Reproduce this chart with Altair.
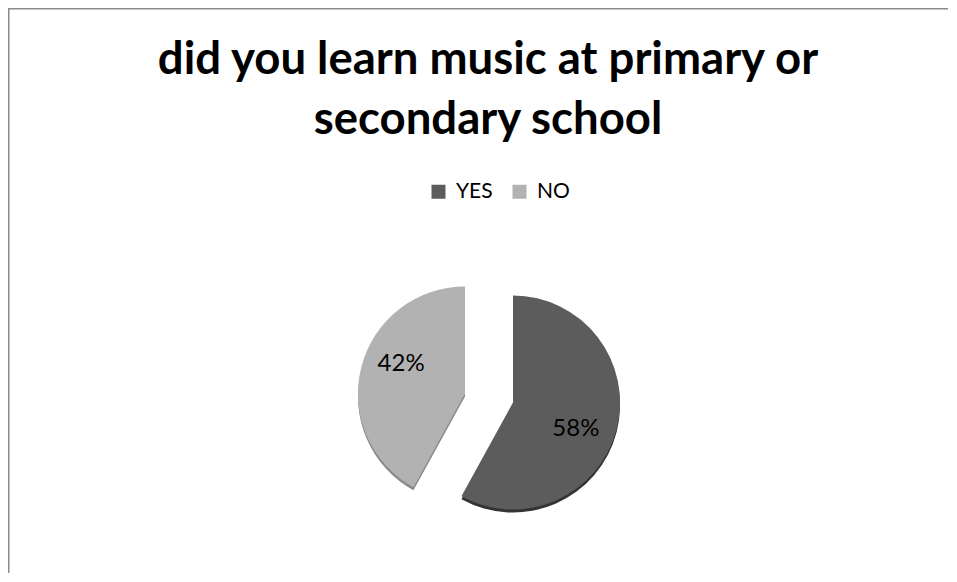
import altair as alt
import pandas as pd

# ---- data ----
ANSWERS = ["YES", "NO"]
VALUES = [58, 42]
ORDER = [0, 1]
COLORS = ["#5c5c5c", "#b2b2b2"]
RIM_COLORS = ["#333333", "#8a8a8a"]
TITLE_LINES = ["did you learn music at primary or", "secondary school"]

df = pd.DataFrame({"answer": ANSWERS, "value": VALUES, "order": ORDER})

W, H = 940, 565
CX, CY = 481, 390
R = 107
EXPLODE = {"YES": (24, 4.5), "NO": (-24, -4.5)}
LABEL_NUDGE = {"YES": (-3, 10), "NO": (2, -13)}
RIM = 3

FONT = "Lato"

base = (
    alt.Chart(df)
    .transform_stack(
        stack="value", groupby=[], as_=["t0", "t1"], offset="normalize",
        sort=[alt.SortField("order")],
    )
    .transform_calculate(
        tmid="(datum.t0 + datum.t1) / 2",
        label="format(datum.t1 - datum.t0, '.0%')",
    )
)

theta_scale = alt.Scale(domain=[0, 1])
color_scale = alt.Scale(domain=ANSWERS, range=COLORS)

layers = []

# border (top & left, as in the cropped original)
blank = alt.Chart(alt.Data(values=[{}]))
layers.append(
    blank.mark_rule(color="#8a8a8a", strokeWidth=3).encode(
        x=alt.value(0), x2=alt.value(W), y=alt.value(0)
    )
)
layers.append(
    blank.mark_rule(color="#8a8a8a", strokeWidth=3).encode(
        x=alt.value(0), y=alt.value(0), y2=alt.value(H)
    )
)

# title
layers.append(
    blank.mark_text(
        font=FONT, fontSize=45.5, fontWeight="bold", align="center",
        baseline="alphabetic", lineHeight=60, color="#000000",
    ).encode(x=alt.value(480), y=alt.value(66), text=alt.value(TITLE_LINES))
)

for i, ans in enumerate(ANSWERS):
    dx, dy = EXPLODE[ans]
    ndx, ndy = LABEL_NUDGE[ans]
    sub = base.transform_filter(alt.datum.answer == ans)
    # darker rim for the 3-D edge
    layers.append(
        sub.mark_arc(radius=R, color=RIM_COLORS[i]).encode(
            theta=alt.Theta("t0:Q", scale=theta_scale),
            theta2="t1:Q",
            x=alt.value(CX + dx),
            y=alt.value(CY + dy + RIM),
        )
    )
    layers.append(
        sub.mark_arc(radius=R).encode(
            theta=alt.Theta("t0:Q", scale=theta_scale),
            theta2="t1:Q",
            x=alt.value(CX + dx),
            y=alt.value(CY + dy),
            color=alt.Color(
                "answer:N",
                scale=color_scale,
                legend=alt.Legend(
                    orient="none", legendX=420, legendY=173,
                    direction="horizontal", title=None,
                    symbolType="square", symbolSize=196,
                    symbolStrokeWidth=0, symbolOpacity=1,
                    labelFont=FONT, labelFontSize=21, labelColor="#000000",
                    labelOffset=7, columnPadding=16,
                ),
            ),
        )
    )
    layers.append(
        sub.mark_text(
            radius=68, font=FONT, fontSize=24, color="#000000",
            align="center", baseline="middle", dx=ndx, dy=ndy,
        ).encode(
            theta=alt.Theta("tmid:Q", scale=theta_scale),
            x=alt.value(CX + dx),
            y=alt.value(CY + dy),
            text="label:N",
        )
    )

chart = (
    alt.layer(*layers)
    .properties(width=W, height=H, autosize="none", padding=0)
    .configure_view(stroke=None)
    .configure(background="#ffffff")
)

chart.save("out.html", embed_options={"renderer": "svg", "actions": False})
